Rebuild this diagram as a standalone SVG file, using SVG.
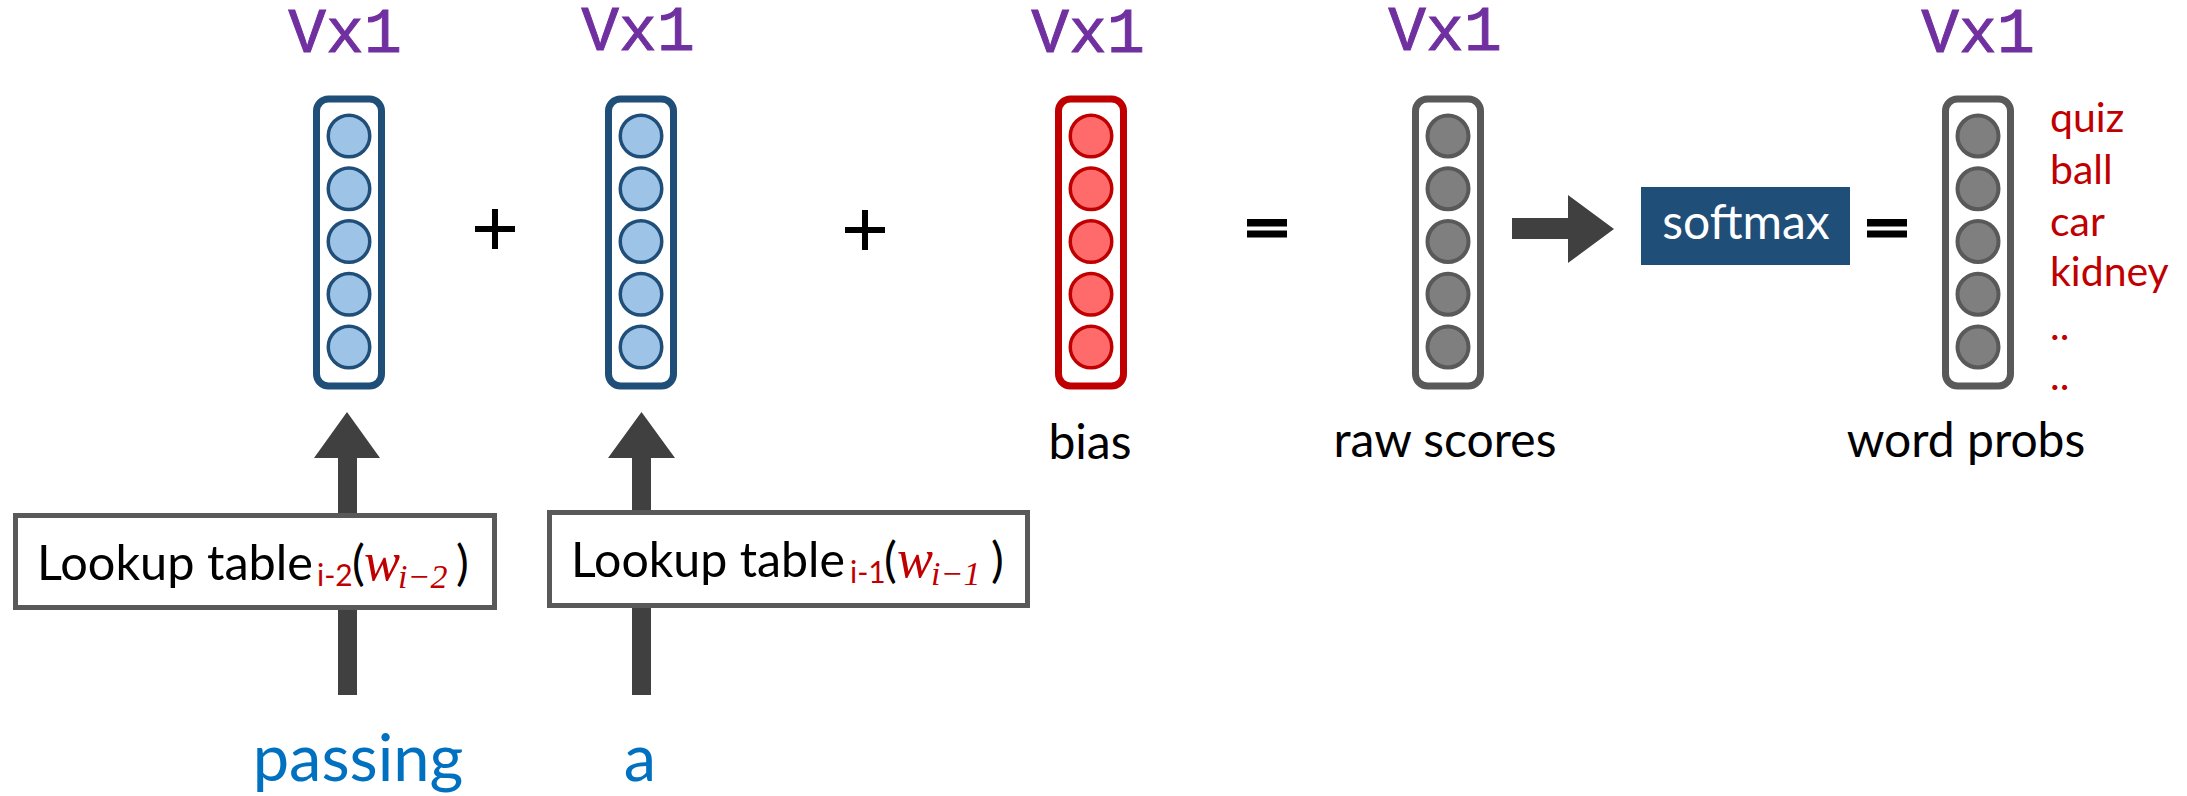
<svg xmlns="http://www.w3.org/2000/svg" width="2187" height="796" viewBox="0 0 2187 796">
<defs>
<style>
.vx{font-family:"Liberation Mono","Courier New",monospace;font-weight:normal;font-size:63px;fill:#7030A0;text-anchor:middle;stroke:#7030A0;stroke-width:1}
.lbl{font-family:Lato,"Open Sans",sans-serif;font-size:48px;fill:#000}
.red{fill:#C00000}
.word{font-family:Lato,"Open Sans",sans-serif;font-size:41px;fill:#C00000}
.in{font-family:Lato,"Open Sans",sans-serif;font-size:65px;fill:#0070C0;text-anchor:middle}
.math{font-family:"Liberation Serif","DejaVu Serif",serif;font-style:italic;fill:#C00000}
.boxb{fill:#fff;stroke:#1F4E79;stroke-width:7}
.boxr{fill:#fff;stroke:#C00000;stroke-width:7}
.boxg{fill:#fff;stroke:#595959;stroke-width:7}
.cb{fill:#9DC3E6;stroke:#1F4E79;stroke-width:3.5}
.cr{fill:#FF6B6B;stroke:#C00000;stroke-width:3.5}
.cg{fill:#7F7F7F;stroke:#595959;stroke-width:4}
.op{stroke:#000;stroke-width:6;fill:none}
.arr{fill:#404040}
.lk{fill:#fff;stroke:#595959;stroke-width:5}
</style>
<g id="cb5">
<circle class="cb" cx="0" cy="136" r="20.75"/><circle class="cb" cx="0" cy="188.75" r="20.75"/><circle class="cb" cx="0" cy="241.5" r="20.75"/><circle class="cb" cx="0" cy="294.25" r="20.75"/><circle class="cb" cx="0" cy="347" r="20.75"/>
</g>
<g id="cr5">
<circle class="cr" cx="0" cy="136" r="20.75"/><circle class="cr" cx="0" cy="188.75" r="20.75"/><circle class="cr" cx="0" cy="241.5" r="20.75"/><circle class="cr" cx="0" cy="294.25" r="20.75"/><circle class="cr" cx="0" cy="347" r="20.75"/>
</g>
<g id="cg5">
<circle class="cg" cx="0" cy="136" r="20.5"/><circle class="cg" cx="0" cy="188.75" r="20.5"/><circle class="cg" cx="0" cy="241.5" r="20.5"/><circle class="cg" cx="0" cy="294.25" r="20.5"/><circle class="cg" cx="0" cy="347" r="20.5"/>
</g>
</defs>
<rect width="2187" height="796" fill="#fff"/>

<g id="vec1">
<text class="vx" x="345" y="52">Vx1</text>
<rect class="boxb" x="316.5" y="99" width="65" height="287" rx="12"/>
<use href="#cb5" x="349"/>
</g>
<g id="plus1"><path class="op" d="M475 229H515M495 209V249"/></g>
<g id="vec2">
<text class="vx" x="638" y="50">Vx1</text>
<rect class="boxb" x="608.5" y="99" width="65" height="287" rx="12"/>
<use href="#cb5" x="641"/>
</g>
<g id="plus2"><path class="op" d="M845 230H885M865 210V250"/></g>
<g id="bias">
<text class="vx" x="1088" y="52">Vx1</text>
<rect class="boxr" x="1058.5" y="99" width="65" height="287" rx="12"/>
<use href="#cr5" x="1091"/>
<text class="lbl" x="1090" y="459" text-anchor="middle">bias</text>
</g>
<g id="eq1"><rect x="1247" y="219" width="40" height="7.5" fill="#000"/><rect x="1247" y="230.5" width="40" height="7" fill="#000"/></g>
<g id="raw">
<text class="vx" x="1445" y="50">Vx1</text>
<rect class="boxg" x="1415.5" y="99" width="65" height="287" rx="12"/>
<use href="#cg5" x="1448"/>
<text class="lbl" x="1445" y="457" text-anchor="middle">raw scores</text>
</g>
<g id="softmax">
<rect x="1641" y="187" width="209" height="78" fill="#1F4E79"/>
<text class="lbl" x="1746" y="239" text-anchor="middle" style="fill:#fff">softmax</text>
</g>
<g id="eq2"><rect x="1867" y="219" width="40" height="7.5" fill="#000"/><rect x="1867" y="230.5" width="40" height="7" fill="#000"/></g>
<g id="probs">
<text class="vx" x="1978" y="52">Vx1</text>
<rect class="boxg" x="1945.5" y="99" width="65" height="287" rx="12"/>
<use href="#cg5" x="1978"/>
<text class="lbl" x="1966" y="457" text-anchor="middle">word probs</text>
<text class="word" x="2050" y="132">quiz</text>
<text class="word" x="2050" y="184">ball</text>
<text class="word" x="2050" y="236">car</text>
<text class="word" x="2050" y="286">kidney</text>
<text class="word" x="2050" y="340">..</text>
<text class="word" x="2050" y="390">..</text>
</g>

<g id="lookup1">
<rect class="lk" x="15.5" y="515.5" width="479" height="92"/>
<text class="lbl" x="37" y="580" textLength="276" lengthAdjust="spacingAndGlyphs">Lookup table</text>
<text class="lbl" y="580"><tspan class="red" x="317" y="586" font-size="30">i-2</tspan><tspan x="352" y="580">(</tspan><tspan class="math" x="364" font-size="54">w</tspan><tspan class="math" x="398" y="588" font-size="34">i−2</tspan><tspan x="456" y="580">)</tspan></text>
</g>
<g id="lookup2">
<rect class="lk" x="549.5" y="512.5" width="478" height="93"/>
<text class="lbl" x="571" y="577" textLength="274" lengthAdjust="spacingAndGlyphs">Lookup table</text>
<text class="lbl" y="577"><tspan class="red" x="850" y="583" font-size="30">i-1</tspan><tspan x="884" y="577">(</tspan><tspan class="math" x="897" font-size="54">w</tspan><tspan class="math" x="931" y="585" font-size="34">i−1</tspan><tspan x="991" y="577">)</tspan></text>
</g>

<g id="input1"><text class="in" x="358" y="781">passing</text></g>
<g id="input2"><text class="in" x="640" y="781">a</text></g>

<g id="connectors">
<polygon class="arr" points="347,412 380,458 357,458 357,513 338,513 338,458 314,458"/>
<rect class="arr" x="338" y="610" width="19" height="85"/>
<polygon class="arr" points="641.5,412 675,458 651,458 651,510 632,510 632,458 608,458"/>
<rect class="arr" x="632" y="608" width="19" height="87"/>
<polygon class="arr" points="1512,218 1568,218 1568,195 1614,229 1568,263 1568,239 1512,239"/>
</g>
</svg>
